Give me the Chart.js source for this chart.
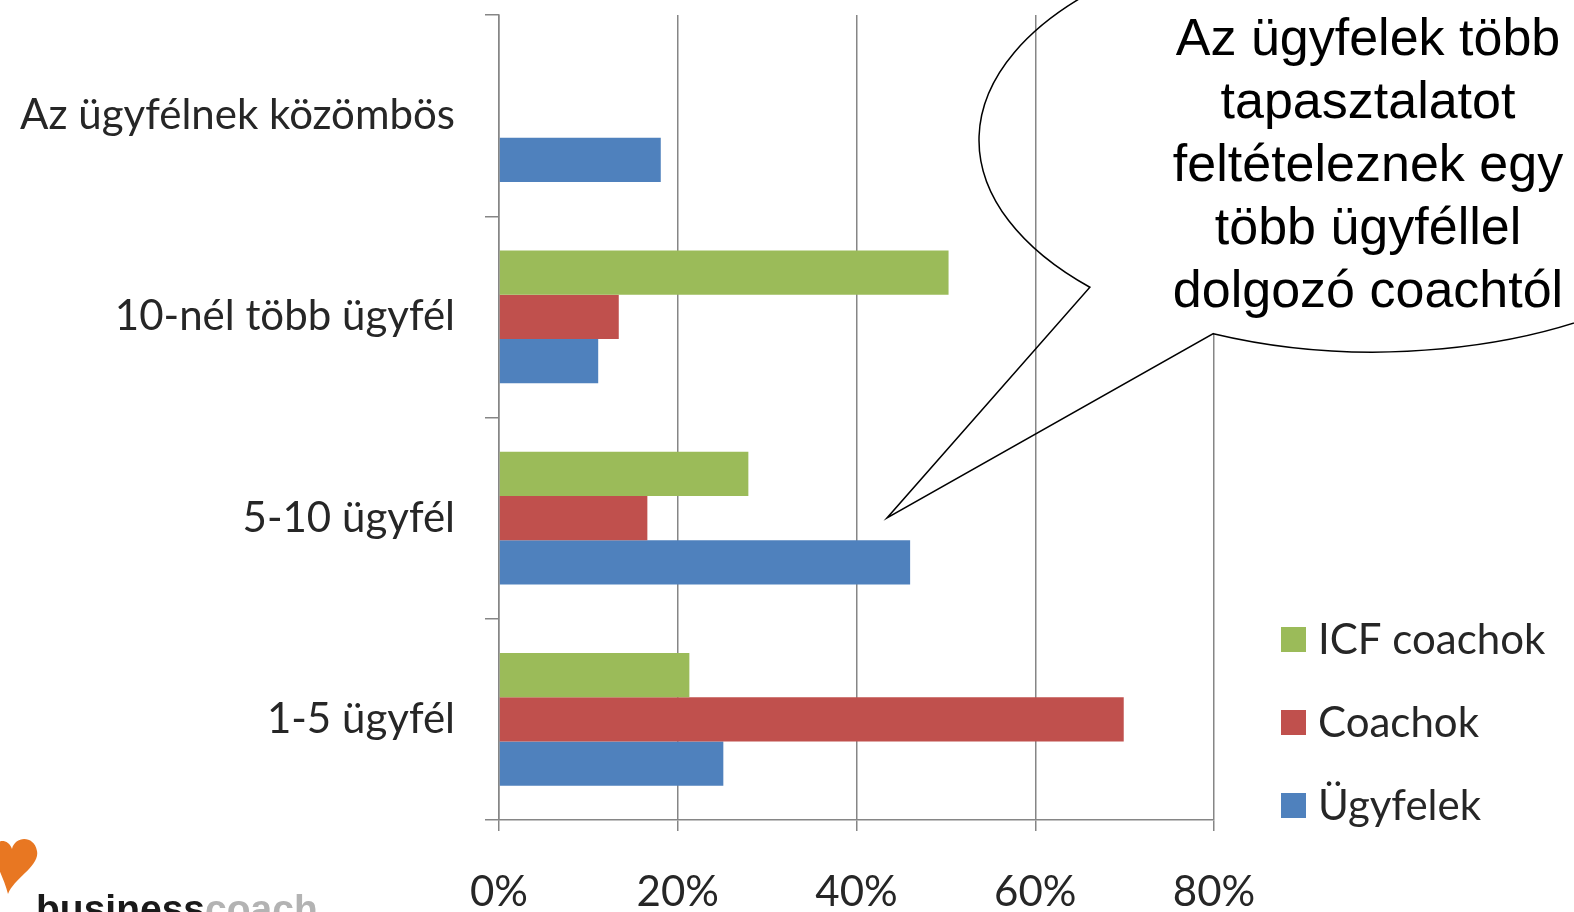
<!DOCTYPE html>
<html>
<head>
<meta charset="utf-8">
<script src="https://cdn.jsdelivr.net/npm/chart.js@4.4.1/dist/chart.umd.min.js"></script>
<style>
    html, body { margin: 0; padding: 0; background: #fff; }
    #wrap { width: 1574px; height: 912px; overflow: hidden; }
</style>
</head>
<body>
<div id="wrap"><canvas id="chart" width="1574" height="912"></canvas></div>
<script>
// categories top to bottom
const categories = ['Az ügyfélnek közömbös', '10-nél több ügyfél', '5-10 ügyfél', '1-5 ügyfél'];
const seriesNames = ['ICF coachok', 'Coachok', 'Ügyfelek'];
const icfCoachok = [0, 50.3, 27.9, 21.3];
const coachok = [0, 13.4, 16.6, 69.9];
const ugyfelek = [18.1, 11.1, 46.0, 25.1];
const xTicks = [0, 20, 40, 60, 80];
const bubbleLines = ['Az ügyfelek több', 'tapasztalatot', 'feltételeznek egy', 'több ügyféllel', 'dolgozó coachtól'];

const colors = ['#9BBB59', '#C0504D', '#4F81BD'];
const axisGray = '#868686';
const labelFont = 'Lato, "Open Sans", sans-serif';

// legend drawn by hand so it sits low on the right like the original
const sideLegend = {
    id: 'sideLegend',
    afterDraw(chart) {
        const ctx = chart.ctx;
        ctx.save();
        ctx.font = '42px ' + labelFont;
        ctx.textBaseline = 'middle';
        chart.data.datasets.forEach((ds, i) => {
            const y = 639 + i * 83;
            ctx.fillStyle = ds.backgroundColor;
            ctx.fillRect(1281, y - 12, 25, 25);
            ctx.fillStyle = '#262626';
            ctx.fillText(ds.label, 1318, y + 1);
        });
        ctx.restore();
    }
};

// speech bubble callout + logo
const callout = {
    id: 'callout',
    afterDraw(chart) {
        const ctx = chart.ctx;
        const cx = 1374, cy = 140, rx = 395, ry = 212;
        const a1 = 136 * Math.PI / 180, a2 = 114 * Math.PI / 180;
        ctx.save();
        ctx.beginPath();
        ctx.ellipse(cx, cy, rx, ry, 0, a1, a2 + 2 * Math.PI, false);
        ctx.lineTo(887, 518);
        ctx.closePath();
        ctx.save();
        ctx.clip();
        ctx.fillStyle = '#fff';
        ctx.fillRect(1150, 0, 430, 400);
        ctx.restore();
        ctx.strokeStyle = '#000';
        ctx.lineWidth = 1.5;
        ctx.stroke();

        ctx.fillStyle = '#000';
        ctx.font = '52px "Liberation Sans", Arial, sans-serif';
        ctx.textAlign = 'center';
        ctx.textBaseline = 'middle';
        bubbleLines.forEach((t, i) => ctx.fillText(t, 1368, 41 + i * 63));

        // logo
        ctx.fillStyle = '#E87722';
        ctx.beginPath();
        ctx.moveTo(8, 894);
        ctx.bezierCurveTo(14, 878, 40, 866, 37, 851);
        ctx.bezierCurveTo(34, 835, 15, 836, 12, 849);
        ctx.bezierCurveTo(8, 837, -8, 839, -6, 853);
        ctx.bezierCurveTo(-4, 866, 4, 878, 8, 894);
        ctx.fill();
        ctx.textAlign = 'left';
        ctx.textBaseline = 'alphabetic';
        ctx.font = 'bold 39px "Liberation Sans", Arial, sans-serif';
        ctx.fillStyle = '#1a1a1a';
        ctx.fillText('business', 36, 922);
        const w = ctx.measureText('business').width;
        ctx.fillStyle = '#b3b3b3';
        ctx.fillText('coach', 36 + w, 922);
        ctx.restore();
    }
};

new Chart(document.getElementById('chart').getContext('2d'), {
    type: 'bar',
    data: {
        labels: categories,
        datasets: [
            {label: seriesNames[0], data: icfCoachok, backgroundColor: colors[0]},
            {label: seriesNames[1], data: coachok, backgroundColor: colors[1]},
            {label: seriesNames[2], data: ugyfelek, backgroundColor: colors[2]}
        ]
    },
    options: {
        indexAxis: 'y',
        responsive: false,
        animation: false,
        categoryPercentage: 0.66,
        barPercentage: 1,
        layout: {padding: {top: 15, right: 360, left: 0, bottom: 0}},
        plugins: {legend: {display: false}, tooltip: {enabled: false}},
        scales: {
            x: {
                min: 0,
                max: 80,
                afterBuildTicks(scale) {
                    scale.ticks = xTicks.map(v => ({value: v}));
                },
                afterFit(scale) {
                    scale.height = 92;
                    scale.paddingLeft = 0;
                    scale.paddingRight = 0;
                },
                grid: {color: axisGray, lineWidth: 1.5, tickLength: 11},
                border: {color: axisGray, width: 1.5},
                ticks: {
                    callback: v => v + '%',
                    font: {family: labelFont, size: 42},
                    color: '#262626',
                    padding: 36,
                    maxRotation: 0
                }
            },
            y: {
                afterFit(scale) {
                    scale.width = 499;
                    scale.paddingTop = 0;
                    scale.paddingBottom = 0;
                },
                grid: {drawOnChartArea: false, color: axisGray, lineWidth: 1.5, tickLength: 14, offset: true},
                border: {color: axisGray, width: 1.5},
                ticks: {
                    font: {family: labelFont, size: 42},
                    color: '#262626',
                    padding: 30
                }
            }
        }
    },
    plugins: [sideLegend, callout]
});
</script>
</body>
</html>
